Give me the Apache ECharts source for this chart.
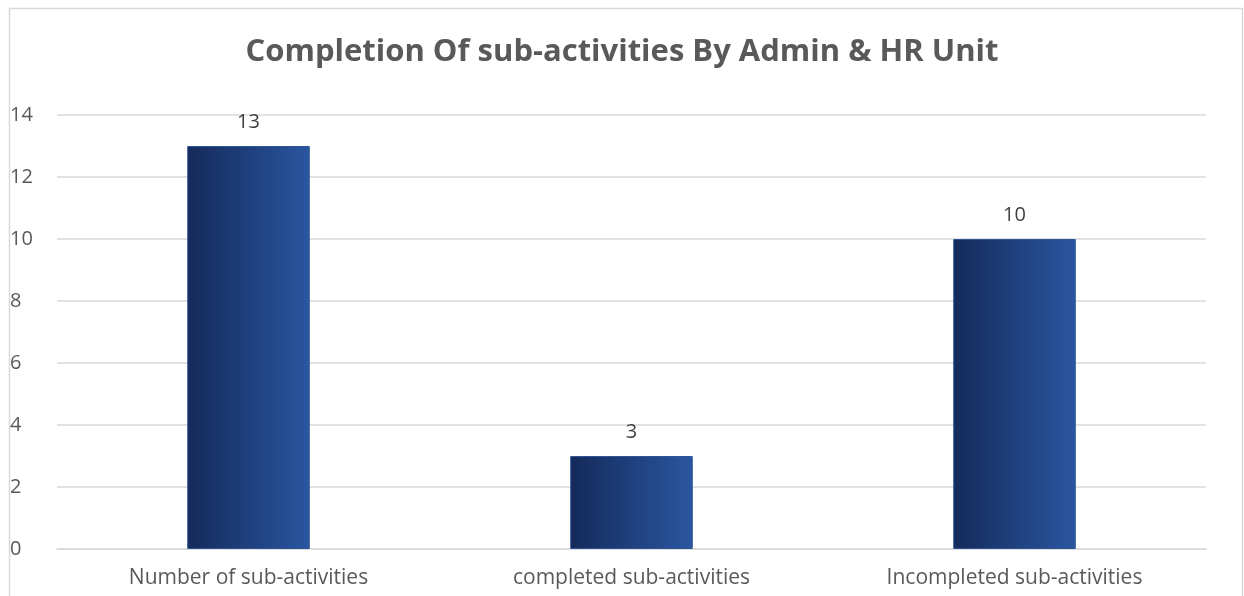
<!DOCTYPE html>
<html><head><meta charset="utf-8">
<script src="https://cdn.jsdelivr.net/npm/echarts@6/dist/echarts.min.js"></script>
<style>html,body{margin:0;padding:0;background:#fff}#c{width:1244px;height:596px}</style>
</head><body><div id="c"></div>
<script>
const categories = ['Number of sub-activities', 'completed sub-activities', 'Incompleted sub-activities'];
const values = [13, 3, 10];
const yTicks = [0, 2, 4, 6, 8, 10, 12, 14];
const titleText = 'Completion Of sub-activities By Admin & HR Unit';

const chart = echarts.init(document.getElementById('c'));
const font = '"Open Sans", "Liberation Sans", sans-serif';
chart.setOption({
  animation: false,
  backgroundColor: '#fff',
  graphic: [{
    type: 'rect', left: 7, top: 6,
    shape: { width: 1233, height: 620 },
    style: { fill: 'none', stroke: '#d9d9d9', lineWidth: 1.5 },
    z: -1
  }],
  title: {
    text: titleText, left: 'center', top: 32,
    textStyle: { fontFamily: font, fontWeight: 'bold', fontSize: 31, color: '#595959' }
  },
  grid: { left: 57, right: 38, top: 115, bottom: 47, containLabel: false },
  xAxis: {
    type: 'category', data: categories,
    axisLine: { lineStyle: { color: '#d9d9d9', width: 1.5 } },
    axisTick: { show: false },
    axisLabel: { fontFamily: font, fontSize: 21, color: '#595959', margin: 19 }
  },
  yAxis: {
    type: 'value', min: yTicks[0], max: yTicks[yTicks.length - 1], interval: 2,
    axisLine: { show: false }, axisTick: { show: false },
    splitLine: { lineStyle: { color: '#d9d9d9', width: 1.5 } },
    axisLabel: { fontFamily: font, fontSize: 20, color: '#595959', margin: 47, align: 'left' }
  },
  series: [{
    type: 'bar', data: values, barWidth: '32%',
    itemStyle: {
      color: new echarts.graphic.LinearGradient(0, 0, 1, 0, [
        { offset: 0, color: '#142a5a' },
        { offset: 1, color: '#2a56a0' }
      ]),
      borderColor: '#2f5597', borderWidth: 1
    },
    label: { show: true, position: 'top', distance: 14, fontFamily: font, fontSize: 20, color: '#404040' }
  }]
});
</script></body></html>
